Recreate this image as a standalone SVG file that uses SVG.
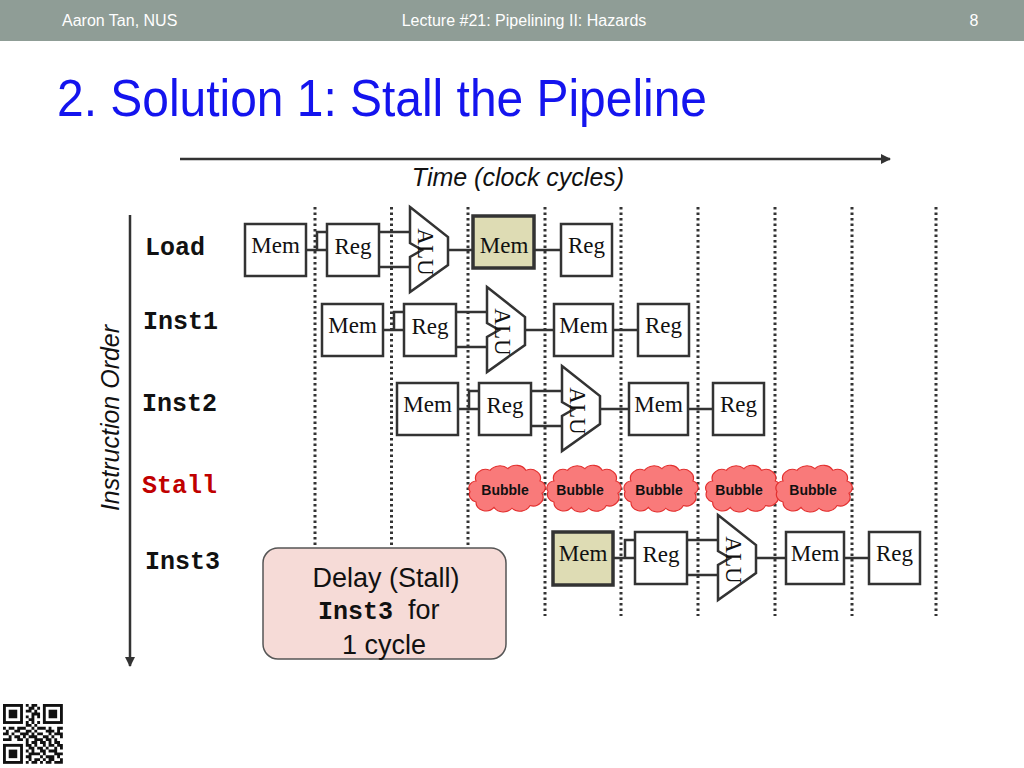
<svg xmlns="http://www.w3.org/2000/svg" xmlns:xlink="http://www.w3.org/1999/xlink" width="1024" height="768" viewBox="0 0 1024 768">
<style>
.box{fill:#fff;stroke:#333;stroke-width:2.5}
.shaded{fill:#dedcb4;stroke:#333;stroke-width:3.5}
.alu{fill:#fff;stroke:#333;stroke-width:2.5;stroke-linejoin:miter}
.t{font-family:"Liberation Serif","Times New Roman",serif;font-size:23px;text-anchor:middle;fill:#111}
.wire{stroke:#333;stroke-width:2.5;fill:none}
.dot{stroke:#333;stroke-width:3;stroke-dasharray:2.5 3}
.lbl{font-family:"Liberation Mono","Courier New",monospace;font-weight:bold;font-size:25px;fill:#111}
.hdr{font-family:"Liberation Sans",Arial,sans-serif;font-size:16px;fill:#fff}
.sans{font-family:"Liberation Sans",Arial,sans-serif;fill:#111}
.cloud{fill:#f97a7a;stroke:#e3302f;stroke-width:1.2}
.bub{font-family:"Liberation Sans",Arial,sans-serif;font-weight:bold;font-size:14px;text-anchor:middle;fill:#111}
</style>
<defs>
<marker id="arr" viewBox="0 0 10 10" refX="9" refY="5" markerWidth="4" markerHeight="4" orient="auto">
<path d="M0,0 L10,5 L0,10 z" fill="#333"/>
</marker>
<path id="cloudshape" d="M-30,-8 a10,10 0 0 1 14,-12 a12,12 0 0 1 18,-2 a11,11 0 0 1 18,2 a10,10 0 0 1 14,12 a8,8 0 0 1 2,14 a10,10 0 0 1 -12,14 a11,11 0 0 1 -18,3 a11,11 0 0 1 -18,-1 a10,10 0 0 1 -18,-6 a9,9 0 0 1 -6,-12 a8,8 0 0 1 6,-12 z"/>
<polygon id="alushape" points="165,-17 203,13 203,41 165,68 165,33 177,26 165,19"/>
</defs>

<!-- header -->
<rect x="0" y="0" width="1024" height="41" fill="#8f9d96"/>
<text class="hdr" x="62" y="26">Aaron Tan, NUS</text>
<text class="hdr" x="524" y="26" text-anchor="middle">Lecture #21: Pipelining II: Hazards</text>
<text class="hdr" x="974" y="26" text-anchor="middle">8</text>

<!-- title -->
<text x="57" y="116" font-family="'Liberation Sans',Arial,sans-serif" font-size="52" fill="#1414ee" textLength="650" lengthAdjust="spacingAndGlyphs">2. Solution 1: Stall the Pipeline</text>

<!-- dotted cycle lines -->
<g id="cycle-lines">
<line class="dot" x1="315" y1="207" x2="315" y2="616"/>
<line class="dot" x1="391.5" y1="207" x2="391.5" y2="616"/>
<line class="dot" x1="468" y1="207" x2="468" y2="616"/>
<line class="dot" x1="545" y1="207" x2="545" y2="616"/>
<line class="dot" x1="621" y1="207" x2="621" y2="616"/>
<line class="dot" x1="698" y1="207" x2="698" y2="616"/>
<line class="dot" x1="775" y1="207" x2="775" y2="616"/>
<line class="dot" x1="852" y1="207" x2="852" y2="616"/>
<line class="dot" x1="936" y1="207" x2="936" y2="616"/>
</g>

<!-- axes -->
<g id="axes">
<line x1="180" y1="159" x2="890" y2="159" stroke="#333" stroke-width="2.5" marker-end="url(#arr)"/>
<text class="sans" x="518" y="186" font-size="25" font-style="italic" text-anchor="middle">Time (clock cycles)</text>
<line x1="130" y1="215" x2="130" y2="666" stroke="#333" stroke-width="2.5" marker-end="url(#arr)"/>
<text class="sans" transform="translate(119,418) rotate(-90)" font-size="25" font-style="italic" text-anchor="middle">Instruction Order</text>
</g>

<!-- instruction labels -->
<g id="labels">
<text class="lbl" x="145" y="255">Load</text>
<text class="lbl" x="143" y="329">Inst1</text>
<text class="lbl" x="142" y="411">Inst2</text>
<text class="lbl" x="142" y="493" style="fill:#c00000">Stall</text>
<text class="lbl" x="145" y="569">Inst3</text>
</g>

<!-- connectors -->
<g id="connectors">
<g transform="translate(245,224)">
<path class="wire" d="M61,26 H82 M72,26 V8 H82 M134,8 H165 M134,43 H165 M203,26 H228 M289,26 H316"/>
</g>
<g transform="translate(322,304)">
<path class="wire" d="M61,26 H82 M72,26 V8 H82 M134,8 H165 M134,43 H165 M203,26 H232 M291,26 H316"/>
</g>
<g transform="translate(397,383)">
<path class="wire" d="M61,26 H82 M72,26 V8 H82 M134,8 H165 M134,43 H165 M203,26 H232 M291,26 H316"/>
</g>
<g transform="translate(553,532)">
<path class="wire" d="M61,26 H82 M72,26 V8 H82 M134,8 H165 M134,43 H165 M203,26 H232 M291,26 H316"/>
</g>
</g>

<!-- Load row -->
<g transform="translate(245,224)">
<g id="load-if"><rect class="box" x="0" y="0" width="61" height="52"/><text class="t" x="30.5" y="29">Mem</text></g>
<g id="load-id"><rect class="box" x="82" y="0" width="52" height="52"/><text class="t" x="108" y="30">Reg</text></g>
<g id="load-ex"><use xlink:href="#alushape" class="alu"/><text class="t" transform="translate(173,28) rotate(90)">ALU</text></g>
<g id="load-mem"><rect class="shaded" x="228" y="-8" width="61" height="52"/><text class="t" x="259" y="29">Mem</text></g>
<g id="load-wb"><rect class="box" x="316" y="0" width="51" height="52"/><text class="t" x="341.5" y="29">Reg</text></g>
</g>

<!-- Inst1 row -->
<g transform="translate(322,304)">
<g id="inst1-if"><rect class="box" x="0" y="0" width="61" height="52"/><text class="t" x="30.5" y="29">Mem</text></g>
<g id="inst1-id"><rect class="box" x="82" y="0" width="52" height="52"/><text class="t" x="108" y="30">Reg</text></g>
<g id="inst1-ex"><use xlink:href="#alushape" class="alu"/><text class="t" transform="translate(173,28) rotate(90)">ALU</text></g>
<g id="inst1-mem"><rect class="box" x="232" y="0" width="59" height="52"/><text class="t" x="261.5" y="29">Mem</text></g>
<g id="inst1-wb"><rect class="box" x="316" y="0" width="51" height="52"/><text class="t" x="341.5" y="29">Reg</text></g>
</g>

<!-- Inst2 row -->
<g transform="translate(397,383)">
<g id="inst2-if"><rect class="box" x="0" y="0" width="61" height="52"/><text class="t" x="30.5" y="29">Mem</text></g>
<g id="inst2-id"><rect class="box" x="82" y="0" width="52" height="52"/><text class="t" x="108" y="30">Reg</text></g>
<g id="inst2-ex"><use xlink:href="#alushape" class="alu"/><text class="t" transform="translate(173,28) rotate(90)">ALU</text></g>
<g id="inst2-mem"><rect class="box" x="232" y="0" width="59" height="52"/><text class="t" x="261.5" y="29">Mem</text></g>
<g id="inst2-wb"><rect class="box" x="316" y="0" width="51" height="52"/><text class="t" x="341.5" y="29">Reg</text></g>
</g>

<!-- Bubbles -->
<g id="bubble1"><use xlink:href="#cloudshape" class="cloud" transform="translate(506,488) scale(1,0.88)"/><text class="bub" x="505" y="495">Bubble</text></g>
<g id="bubble2"><use xlink:href="#cloudshape" class="cloud" transform="translate(583,488) scale(0.97,0.88)"/><text class="bub" x="580" y="495">Bubble</text></g>
<g id="bubble3"><use xlink:href="#cloudshape" class="cloud" transform="translate(660,488) scale(0.97,0.88)"/><text class="bub" x="659" y="495">Bubble</text></g>
<g id="bubble4"><use xlink:href="#cloudshape" class="cloud" transform="translate(742,488) scale(0.98,0.88)"/><text class="bub" x="739" y="495">Bubble</text></g>
<g id="bubble5"><use xlink:href="#cloudshape" class="cloud" transform="translate(813,488) scale(1,0.88)"/><text class="bub" x="813" y="495">Bubble</text></g>

<!-- Inst3 row -->
<g transform="translate(553,532)">
<g id="inst3-if"><rect class="shaded" x="0" y="0" width="60" height="53"/><text class="t" x="30" y="29">Mem</text></g>
<g id="inst3-id"><rect class="box" x="82" y="0" width="52" height="52"/><text class="t" x="108" y="30">Reg</text></g>
<g id="inst3-ex"><use xlink:href="#alushape" class="alu"/><text class="t" transform="translate(173,28) rotate(90)">ALU</text></g>
<g id="inst3-mem"><rect class="box" x="233" y="0" width="58" height="52"/><text class="t" x="262" y="29">Mem</text></g>
<g id="inst3-wb"><rect class="box" x="316" y="0" width="51" height="52"/><text class="t" x="341.5" y="29">Reg</text></g>
</g>

<!-- Delay note -->
<g id="delay-note">
<rect x="263" y="548" width="243" height="111" rx="15" ry="15" fill="#f6dbd7" stroke="#555" stroke-width="1.5"/>
<text class="sans" x="386" y="587" font-size="27" text-anchor="middle">Delay (Stall)</text>
<text class="sans" x="318" y="619" font-size="27"><tspan font-family="'Liberation Mono','Courier New',monospace" font-weight="bold" font-size="25">Inst3 </tspan><tspan>for</tspan></text>
<text class="sans" x="384" y="654" font-size="27" text-anchor="middle">1 cycle</text>
</g>

<!-- QR code -->
<g id="qr" transform="translate(3,704) scale(2.85)">
<g fill="none" stroke="#111" stroke-width="1">
<rect x="0.5" y="0.5" width="6" height="6"/>
<rect x="14.5" y="0.5" width="6" height="6"/>
<rect x="0.5" y="14.5" width="6" height="6"/>
</g>
<g fill="#111">
<rect x="2" y="2" width="3" height="3"/>
<rect x="16" y="2" width="3" height="3"/>
<rect x="2" y="16" width="3" height="3"/>
</g>
<path fill="none" stroke="#111" stroke-width="1" d="M8,0.5h1M10,0.5h2M9,1.5h2M12,1.5h1M8,2.5h2M11,2.5h1M10,3.5h3M8,4.5h1M10,4.5h1M12,4.5h1M9,5.5h2M8,6.5h1M10,6.5h1M12,6.5h1M8,7.5h2M11,7.5h1M0,8.5h1M2,8.5h2M5,8.5h3M10,8.5h1M12,8.5h3M16,8.5h1M19,8.5h2M1,9.5h1M4,9.5h2M8,9.5h2M11,9.5h1M15,9.5h3M19,9.5h1M0,10.5h2M3,10.5h1M6,10.5h3M10,10.5h1M12,10.5h2M16,10.5h1M18,10.5h3M2,11.5h1M4,11.5h2M7,11.5h1M9,11.5h3M14,11.5h2M17,11.5h1M20,11.5h1M0,12.5h3M5,12.5h2M8,12.5h1M11,12.5h3M15,12.5h2M18,12.5h1M8,13.5h1M10,13.5h2M13,13.5h2M16,13.5h1M18,13.5h2M8,14.5h2M11,14.5h1M14,14.5h1M16,14.5h2M19,14.5h2M9,15.5h2M12,15.5h2M15,15.5h1M18,15.5h1M20,15.5h1M8,16.5h1M10,16.5h1M13,16.5h2M16,16.5h3M9,17.5h4M14,17.5h1M18,17.5h3M8,18.5h2M13,18.5h1M15,18.5h3M19,18.5h1M9,19.5h1M11,19.5h2M14,19.5h1M16,19.5h2M20,19.5h1M8,20.5h1M10,20.5h2M13,20.5h1M15,20.5h2M18,20.5h3"/>
</g>
</svg>
